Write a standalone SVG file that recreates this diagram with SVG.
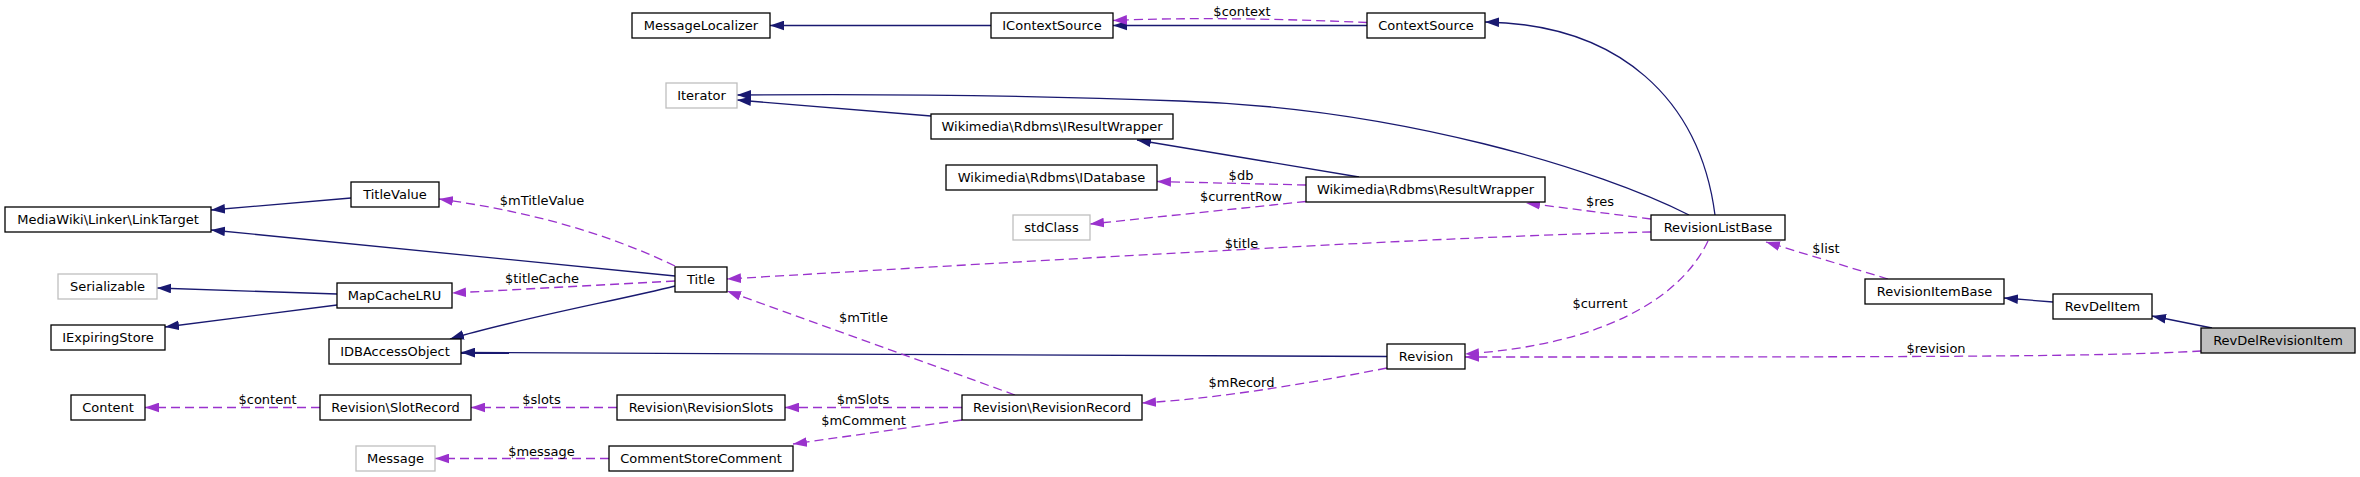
<svg xmlns="http://www.w3.org/2000/svg" width="2360" height="477" viewBox="0 0 2360 477">
<style>
.node rect{fill:#fff;stroke:#000;stroke-width:1.3}
.node.grey rect{stroke:#bfbfbf}
.node.focus rect{fill:#bfbfbf}
text{font-family:"DejaVu Sans","Liberation Sans",sans-serif;font-size:13px;fill:#000}
.node text{text-anchor:middle}
.lbl{text-anchor:middle}
.inh{fill:none;stroke:#191970;stroke-width:1.3;marker-end:url(#ah)}
.use{fill:none;stroke:#9a32cd;stroke-width:1.3;stroke-dasharray:9,5;marker-end:url(#ap)}
</style>
<defs>
<marker id="ah" markerUnits="userSpaceOnUse" markerWidth="14" markerHeight="10" viewBox="0 0 13 9" refX="13" refY="4.5" orient="auto"><path d="M0,0 L13,4.5 L0,9 z" fill="#191970"/></marker>
<marker id="ap" markerUnits="userSpaceOnUse" markerWidth="14" markerHeight="10" viewBox="0 0 13 9" refX="13" refY="4.5" orient="auto"><path d="M0,0 L13,4.5 L0,9 z" fill="#9a32cd"/></marker>
</defs>
<rect width="2360" height="477" fill="#fff"/>
<g id="edges">
<path class="inh" d="M991,25.5 L770,25.5"/>
<path class="inh" d="M1367,25.5 L1113,25.5"/>
<path class="use" d="M1367,22.5 C1290,19 1190,17 1113,20.5"/>
<path class="inh" d="M1715,215 C1700,100 1620,24 1485,22"/>
<path class="inh" d="M1689,215 C1600,170 1400,108 1180,101 C1000,94 850,94 737,95"/>
<path class="inh" d="M931,116 L737,100"/>
<path class="inh" d="M1359,177 L1137,140"/>
<path class="use" d="M1306,185 L1157,181.5"/>
<path class="use" d="M1306,201.5 L1090,224"/>
<path class="use" d="M1651,219 L1526,203"/>
<path class="use" d="M1651,232 C1450,236 1050,260 727,279"/>
<path class="use" d="M1708,241 C1680,300 1600,345 1465,354"/>
<path class="use" d="M2201,351 C2100,357 1900,357 1465,357"/>
<path class="use" d="M1888,279 L1766,242"/>
<path class="inh" d="M2053,302 L2004,298"/>
<path class="inh" d="M2212,328 L2152,316"/>
<path class="inh" d="M351,198 L211,210"/>
<path class="inh" d="M675,276 L211,230"/>
<path class="use" d="M675,281 L452,293"/>
<path class="inh" d="M675,286 C620,300 520,318 450,339"/>
<path class="use" d="M675,266 C600,230 520,210 439,199"/>
<path class="inh" d="M337,294 L157,288"/>
<path class="inh" d="M337,305 L165,327"/>
<path class="inh" d="M1387,356.5 C1000,355 700,353 461,352.5"/>
<path class="use" d="M1387,368 C1300,385 1220,398 1142,403"/>
<path class="use" d="M1015,395 L727,291"/>
<path class="use" d="M962,407.5 L785,407.5"/>
<path class="use" d="M962,420 L793,444"/>
<path class="use" d="M617,407.5 L471,407.5"/>
<path class="use" d="M320,407.5 L145,407.5"/>
<path class="use" d="M609,458.5 L435,458.5"/>
<text class="lbl" x="1242" y="16">$context</text>
<text class="lbl" x="542" y="204.5">$mTitleValue</text>
<text class="lbl" x="542" y="283">$titleCache</text>
<text class="lbl" x="267.5" y="404">$content</text>
<text class="lbl" x="541.5" y="404">$slots</text>
<text class="lbl" x="541.5" y="455.5">$message</text>
<text class="lbl" x="863.5" y="321.5">$mTitle</text>
<text class="lbl" x="863" y="404">$mSlots</text>
<text class="lbl" x="863.5" y="425">$mComment</text>
<text class="lbl" x="1241" y="179.5">$db</text>
<text class="lbl" x="1241" y="201">$currentRow</text>
<text class="lbl" x="1600" y="205.5">$res</text>
<text class="lbl" x="1241.5" y="247.5">$title</text>
<text class="lbl" x="1600" y="308">$current</text>
<text class="lbl" x="1241.5" y="387">$mRecord</text>
<text class="lbl" x="1826" y="253">$list</text>
<text class="lbl" x="1936" y="353">$revision</text>
</g>
<g id="n-MessageLocalizer" class="node"><rect x="632" y="13" width="138" height="25"/><text x="701" y="30">MessageLocalizer</text></g>
<g id="n-IContextSource" class="node"><rect x="991" y="13" width="122" height="25"/><text x="1052" y="30">IContextSource</text></g>
<g id="n-ContextSource" class="node"><rect x="1367" y="13" width="118" height="25"/><text x="1426" y="30">ContextSource</text></g>
<g id="n-Iterator" class="node grey"><rect x="666" y="83" width="71" height="25"/><text x="701.5" y="100">Iterator</text></g>
<g id="n-IResultWrapper" class="node"><rect x="931" y="114" width="242" height="25"/><text x="1052" y="131">Wikimedia\Rdbms\IResultWrapper</text></g>
<g id="n-IDatabase" class="node"><rect x="946" y="165" width="211" height="25"/><text x="1051.5" y="182">Wikimedia\Rdbms\IDatabase</text></g>
<g id="n-stdClass" class="node grey"><rect x="1013" y="215" width="77" height="25"/><text x="1051.5" y="232">stdClass</text></g>
<g id="n-ResultWrapper" class="node"><rect x="1306" y="177" width="239" height="25"/><text x="1425.5" y="194">Wikimedia\Rdbms\ResultWrapper</text></g>
<g id="n-RevisionListBase" class="node"><rect x="1651" y="215" width="134" height="25"/><text x="1718" y="232">RevisionListBase</text></g>
<g id="n-TitleValue" class="node"><rect x="351" y="182" width="88" height="25"/><text x="395" y="199">TitleValue</text></g>
<g id="n-LinkTarget" class="node"><rect x="5" y="207" width="206" height="25"/><text x="108" y="224">MediaWiki\Linker\LinkTarget</text></g>
<g id="n-Serializable" class="node grey"><rect x="58" y="274" width="99" height="25"/><text x="107.5" y="291">Serializable</text></g>
<g id="n-MapCacheLRU" class="node"><rect x="337" y="283" width="115" height="25"/><text x="394.5" y="300">MapCacheLRU</text></g>
<g id="n-Title" class="node"><rect x="675" y="267" width="52" height="25"/><text x="701" y="284">Title</text></g>
<g id="n-IExpiringStore" class="node"><rect x="51" y="325" width="114" height="25"/><text x="108" y="342">IExpiringStore</text></g>
<g id="n-IDBAccessObject" class="node"><rect x="329" y="339" width="132" height="25"/><text x="395" y="356">IDBAccessObject</text></g>
<g id="n-Revision" class="node"><rect x="1387" y="344" width="78" height="25"/><text x="1426" y="361">Revision</text></g>
<g id="n-Content" class="node"><rect x="71" y="395" width="74" height="25"/><text x="108" y="412">Content</text></g>
<g id="n-SlotRecord" class="node"><rect x="320" y="395" width="151" height="25"/><text x="395.5" y="412">Revision\SlotRecord</text></g>
<g id="n-RevisionSlots" class="node"><rect x="617" y="395" width="168" height="25"/><text x="701" y="412">Revision\RevisionSlots</text></g>
<g id="n-RevisionRecord" class="node"><rect x="962" y="395" width="180" height="25"/><text x="1052" y="412">Revision\RevisionRecord</text></g>
<g id="n-Message" class="node grey"><rect x="356" y="446" width="79" height="25"/><text x="395.5" y="463">Message</text></g>
<g id="n-CommentStoreComment" class="node"><rect x="609" y="446" width="184" height="25"/><text x="701" y="463">CommentStoreComment</text></g>
<g id="n-RevisionItemBase" class="node"><rect x="1865" y="279" width="139" height="25"/><text x="1934.5" y="296">RevisionItemBase</text></g>
<g id="n-RevDelItem" class="node"><rect x="2053" y="294" width="99" height="25"/><text x="2102.5" y="311">RevDelItem</text></g>
<g id="n-RevDelRevisionItem" class="node focus"><rect x="2201" y="328" width="154" height="25"/><text x="2278" y="345">RevDelRevisionItem</text></g>
</svg>
